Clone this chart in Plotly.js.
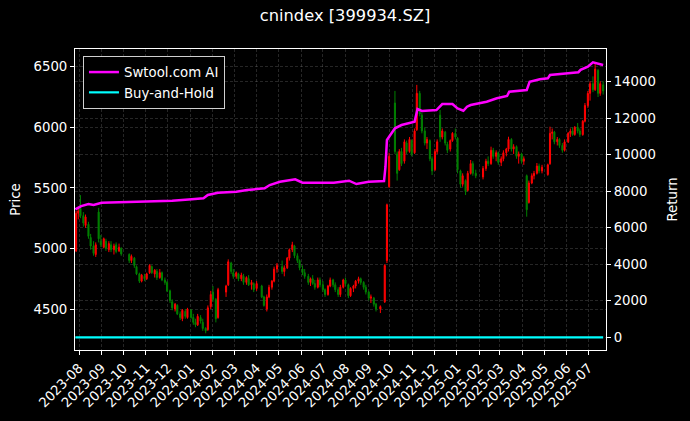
<!DOCTYPE html>
<html><head><meta charset="utf-8">
<script src="https://cdn.plot.ly/plotly-3.0.1.min.js"></script>
<style>html,body{margin:0;padding:0;background:#000;}#chart{width:690px;height:421px;}</style>
</head><body><div id="chart"></div>
<script>
const candleDates = ['2023-07-28','2023-07-31','2023-08-03','2023-08-07','2023-08-10','2023-08-14','2023-08-17','2023-08-21','2023-08-24','2023-08-28','2023-08-31','2023-09-04','2023-09-07','2023-09-11','2023-09-14','2023-09-18','2023-09-21','2023-09-25','2023-09-28','2023-10-09','2023-10-12','2023-10-16','2023-10-19','2023-10-23','2023-10-26','2023-10-30','2023-11-02','2023-11-06','2023-11-09','2023-11-13','2023-11-16','2023-11-20','2023-11-23','2023-11-27','2023-11-30','2023-12-04','2023-12-07','2023-12-11','2023-12-14','2023-12-18','2023-12-21','2023-12-25','2023-12-28','2024-01-02','2024-01-05','2024-01-08','2024-01-11','2024-01-15','2024-01-18','2024-01-22','2024-01-25','2024-01-29','2024-02-01','2024-02-05','2024-02-08','2024-02-19','2024-02-22','2024-02-26','2024-02-29','2024-03-04','2024-03-07','2024-03-11','2024-03-14','2024-03-18','2024-03-21','2024-03-25','2024-03-28','2024-04-01','2024-04-08','2024-04-11','2024-04-15','2024-04-18','2024-04-22','2024-04-25','2024-04-29','2024-05-06','2024-05-09','2024-05-13','2024-05-16','2024-05-20','2024-05-23','2024-05-27','2024-05-30','2024-06-03','2024-06-06','2024-06-11','2024-06-14','2024-06-17','2024-06-20','2024-06-24','2024-06-27','2024-07-01','2024-07-04','2024-07-08','2024-07-11','2024-07-15','2024-07-18','2024-07-22','2024-07-25','2024-07-29','2024-08-01','2024-08-05','2024-08-08','2024-08-12','2024-08-15','2024-08-19','2024-08-22','2024-08-26','2024-08-29','2024-09-02','2024-09-05','2024-09-09','2024-09-12','2024-09-18','2024-09-24','2024-09-27','2024-09-30','2024-10-08','2024-10-11','2024-10-14','2024-10-17','2024-10-21','2024-10-24','2024-10-28','2024-10-31','2024-11-04','2024-11-07','2024-11-11','2024-11-14','2024-11-18','2024-11-21','2024-11-25','2024-11-28','2024-12-02','2024-12-05','2024-12-09','2024-12-12','2024-12-16','2024-12-19','2024-12-23','2024-12-26','2024-12-30','2025-01-02','2025-01-06','2025-01-09','2025-01-13','2025-01-16','2025-01-20','2025-01-23','2025-01-27','2025-02-06','2025-02-10','2025-02-13','2025-02-17','2025-02-20','2025-02-24','2025-02-27','2025-03-03','2025-03-06','2025-03-10','2025-03-13','2025-03-17','2025-03-20','2025-03-24','2025-03-27','2025-03-31','2025-04-03','2025-04-07','2025-04-10','2025-04-14','2025-04-17','2025-04-21','2025-04-24','2025-04-28','2025-05-06','2025-05-09','2025-05-12','2025-05-15','2025-05-19','2025-05-22','2025-05-26','2025-05-29','2025-06-03','2025-06-06','2025-06-09','2025-06-12','2025-06-16','2025-06-19','2025-06-23','2025-06-26','2025-06-30','2025-07-03','2025-07-07','2025-07-10','2025-07-14','2025-07-17','2025-07-21'];
const openVals = [4980,5290,5330,5270,5190,5200,5090,5020,4950,5300,5060,5010,5060,4990,5030,4990,5030,4980,5000,4950,4900,4920,4850,4790,4730,4770,4750,4800,4850,4790,4810,4760,4800,4740,4720,4650,4560,4500,4530,4460,4420,4480,4430,4490,4430,4390,4370,4430,4390,4340,4330,4520,4640,4580,4430,4640,4700,4880,4800,4770,4790,4750,4770,4720,4750,4700,4710,4670,4690,4600,4500,4600,4680,4730,4830,4850,4810,4840,4920,4990,5020,4940,4900,4830,4800,4770,4720,4750,4710,4680,4740,4700,4660,4620,4690,4740,4700,4660,4620,4680,4740,4700,4610,4670,4690,4730,4750,4720,4680,4640,4590,4590,4540,4500,4560,4900,5510,6200,5780,5650,5800,5720,5870,5800,5890,5790,5980,6280,6100,5970,5870,5890,5740,5650,5800,6100,5920,5960,5860,5820,5890,5950,5910,5640,5530,5560,5480,5620,5700,5620,5590,5660,5720,5700,5810,5760,5790,5710,5740,5790,5820,5900,5820,5840,5760,5780,5720,5600,5380,5540,5600,5620,5680,5640,5610,5700,5950,5960,5880,5900,5850,5810,5880,5950,5970,5940,6000,5970,5940,6050,6180,6280,6360,6310,6470,6280,6350];
const highVals = [5310,5330,5440,5300,5280,5220,5120,5060,5050,5335,5110,5090,5080,5060,5060,5040,5050,5040,5010,4960,4950,4930,4860,4800,4790,4790,4800,4870,4860,4830,4830,4830,4810,4760,4730,4660,4580,4550,4540,4480,4500,4500,4510,4500,4460,4420,4460,4450,4420,4350,4530,4650,4690,4590,4675,4700,4910,4890,4830,4810,4800,4800,4790,4770,4780,4740,4720,4730,4700,4610,4620,4700,4740,4850,4880,4900,4860,4930,5000,5055,5030,4960,4910,4860,4830,4790,4760,4780,4740,4760,4760,4730,4670,4700,4760,4750,4720,4680,4700,4750,4760,4710,4680,4700,4740,4767,4760,4730,4700,4650,4620,4600,4550,4530,4870,5370,5790,6300,5800,5820,5830,5900,5890,5920,5900,5990,6350,6300,6120,6000,5920,5900,5760,5820,5900,6143,5990,5970,5880,5900,5960,5990,5920,5650,5620,5570,5640,5730,5720,5650,5680,5740,5760,5840,5830,5810,5800,5760,5810,5830,5922,5910,5860,5850,5800,5790,5760,5610,5560,5620,5640,5705,5700,5690,5700,6005,5990,5970,5920,5910,5870,5900,5960,5990,6000,6010,6035,5990,6060,6200,6300,6380,6420,6528,6480,6380,6380];
const lowVals = [4970,5240,5250,5180,5170,5080,4990,4940,4930,5050,5010,5000,4980,4970,4970,4950,4960,4970,4940,4880,4880,4840,4780,4715,4720,4730,4740,4790,4790,4760,4740,4750,4730,4700,4640,4550,4490,4480,4450,4410,4400,4420,4420,4420,4370,4350,4360,4380,4320,4300,4320,4500,4560,4390,4420,4600,4690,4790,4750,4750,4730,4730,4700,4700,4690,4660,4640,4650,4590,4520,4480,4590,4660,4720,4800,4790,4770,4830,4900,4970,4920,4880,4820,4780,4750,4700,4690,4700,4660,4670,4680,4640,4600,4610,4680,4680,4640,4600,4600,4670,4690,4590,4600,4640,4670,4710,4700,4660,4620,4570,4550,4520,4480,4467,4550,4880,5500,5780,5560,5640,5680,5700,5780,5790,5760,5780,5970,6090,5950,5850,5820,5720,5606,5640,5780,5880,5900,5850,5787,5800,5880,5900,5620,5500,5510,5441,5470,5610,5600,5580,5570,5640,5680,5690,5740,5720,5690,5680,5720,5760,5800,5800,5780,5740,5700,5700,5690,5262,5370,5530,5570,5610,5620,5620,5600,5690,5900,5860,5850,5830,5790,5800,5870,5920,5930,5930,5950,5920,5930,6040,6160,6220,6290,6300,6250,6260,6270];
const closeVals = [5290,5310,5270,5210,5260,5100,5020,4960,5030,5080,5030,5080,5000,5040,4990,5020,4975,5010,4955,4900,4935,4860,4790,4730,4780,4750,4790,4860,4800,4820,4760,4800,4740,4720,4650,4570,4510,4540,4460,4430,4490,4440,4500,4430,4390,4370,4440,4400,4340,4320,4510,4620,4580,4420,4660,4690,4890,4810,4770,4800,4750,4780,4720,4760,4700,4720,4660,4710,4600,4530,4600,4680,4730,4830,4860,4810,4840,4920,4990,5030,4940,4900,4840,4800,4770,4720,4750,4710,4680,4740,4700,4660,4620,4690,4740,4700,4660,4620,4680,4740,4710,4610,4670,4690,4730,4750,4720,4680,4640,4590,4600,4540,4500,4520,4860,5360,5760,5800,5620,5800,5700,5880,5800,5900,5780,5970,6280,6110,5970,5870,5900,5740,5640,5800,5880,5920,5970,5870,5810,5890,5950,5920,5650,5530,5600,5470,5620,5700,5620,5600,5660,5720,5700,5810,5760,5790,5710,5740,5790,5820,5900,5820,5840,5760,5780,5720,5740,5320,5540,5600,5620,5680,5640,5670,5690,5950,5960,5880,5900,5850,5810,5880,5950,5970,5940,6000,5970,5940,6050,6180,6280,6360,6310,6480,6280,6360,6300];

const stratDates = ['2023-07-27','2023-08-04','2023-08-14','2023-08-21','2023-09-01','2023-10-23','2023-12-07','2024-01-03','2024-01-19','2024-01-25','2024-02-01','2024-02-08','2024-03-04','2024-03-19','2024-04-12','2024-04-19','2024-05-03','2024-05-16','2024-05-24','2024-06-03','2024-07-16','2024-08-06','2024-08-16','2024-09-02','2024-09-23','2024-09-25','2024-09-27','2024-09-30','2024-10-08','2024-10-17','2024-11-04','2024-11-08','2024-11-14','2024-12-04','2024-12-12','2024-12-26','2025-01-02','2025-01-10','2025-01-15','2025-01-20','2025-02-11','2025-02-25','2025-03-11','2025-03-14','2025-04-07','2025-04-11','2025-04-25','2025-05-06','2025-05-09','2025-06-03','2025-06-17','2025-06-20','2025-06-30','2025-07-07','2025-07-14','2025-07-21'];
const stratVals = [7010,7190,7300,7245,7371,7426,7481,7557,7612,7793,7848,7919,7974,8067,8160,8341,8522,8614,8650,8467,8467,8577,8395,8522,8560,9343,10805,10986,11446,11627,11807,12500,12400,12448,12777,12777,12541,12410,12629,12722,12903,13089,13215,13450,13543,13998,14129,14184,14365,14458,14520,14650,14819,15060,14980,14912];

const bhDates = ['2023-07-27','2023-10-23','2024-01-22','2024-05-20','2024-09-18','2024-10-08','2025-01-13','2025-04-07','2025-06-03','2025-07-21'];
const bhVals = [1.00,0.95,0.87,1.01,0.90,1.17,1.10,1.07,1.19,1.27];

const xRange = ['2023-07-26 12:00','2025-07-24 22:00'];
const priceRange = [4162,6646];
const returnRange = [-695,15791];

const txt = '#ffffff';
const gridCol = 'rgba(140,140,140,0.45)';
const axisCommon = {
  ticks:'outside', ticklen:4, tickwidth:1, tickcolor:txt,
  showline:true, linecolor:txt, linewidth:1,
  showgrid:true, gridcolor:gridCol, gridwidth:0.6, griddash:'3px,2px',
  zeroline:false, automargin:false, fixedrange:true,
  tickfont:{family:'DejaVu Sans, sans-serif', size:13.3, color:txt}
};

const traces = [
  {type:'candlestick', x:candleDates, open:openVals, high:highVals, low:lowVals, close:closeVals,
   xaxis:'x', yaxis:'y', showlegend:false, hoverinfo:'skip', whiskerwidth:0,
   increasing:{line:{color:'#ff0000', width:1}, fillcolor:'#ff0000'},
   decreasing:{line:{color:'#008000', width:1}, fillcolor:'#008000'}},
  {type:'scatter', mode:'lines', x:stratDates, y:stratVals, xaxis:'x', yaxis:'y2',
   name:'Swtool.com AI', line:{color:'#ff00ff', width:2.5}},
  {type:'scatter', mode:'lines', x:bhDates, y:bhVals, xaxis:'x', yaxis:'y2',
   name:'Buy-and-Hold', line:{color:'#00ffff', width:2.2}}
];

const layout = {
  width:690, height:421,
  paper_bgcolor:'#000', plot_bgcolor:'#000',
  margin:{l:75, r:84, t:49, b:71, pad:0},
  font:{family:'DejaVu Sans, sans-serif', size:13.3, color:txt},
  title:{text:'cnindex [399934.SZ]', x:0.5, xref:'container', xanchor:'center',
         y:1-15/421, yref:'container', yanchor:'middle',
         font:{family:'DejaVu Sans, sans-serif', size:16.3, color:txt}},
  showlegend:true,
  legend:{x:0.015, y:0.977, xanchor:'left', yanchor:'top', bgcolor:'#000',
          bordercolor:'#d0d0d0', borderwidth:1,
          font:{family:'DejaVu Sans, sans-serif', size:13.3, color:txt}},
  xaxis: Object.assign({}, axisCommon, {
    type:'date', range:xRange, tickmode:'linear', tick0:'2023-08-01', dtick:'M1',
    tickformat:'%Y-%m', tickangle:-45, mirror:true, rangeslider:{visible:false}
  }),
  yaxis: Object.assign({}, axisCommon, {
    range:priceRange, tickmode:'linear', tick0:4500, dtick:500, side:'left', tickformat:'d',
    title:{text:'Price', standoff:9, font:{family:'DejaVu Sans, sans-serif', size:13.3, color:txt}}
  }),
  yaxis2: Object.assign({}, axisCommon, {
    range:returnRange, tickmode:'linear', tick0:0, dtick:2000, side:'right', overlaying:'y', tickformat:'d',
    title:{text:'Return', standoff:12, font:{family:'DejaVu Sans, sans-serif', size:13.3, color:txt}}
  })
};

Plotly.newPlot('chart', traces, layout, {staticPlot:true, displayModeBar:false});
</script>
</body></html>
